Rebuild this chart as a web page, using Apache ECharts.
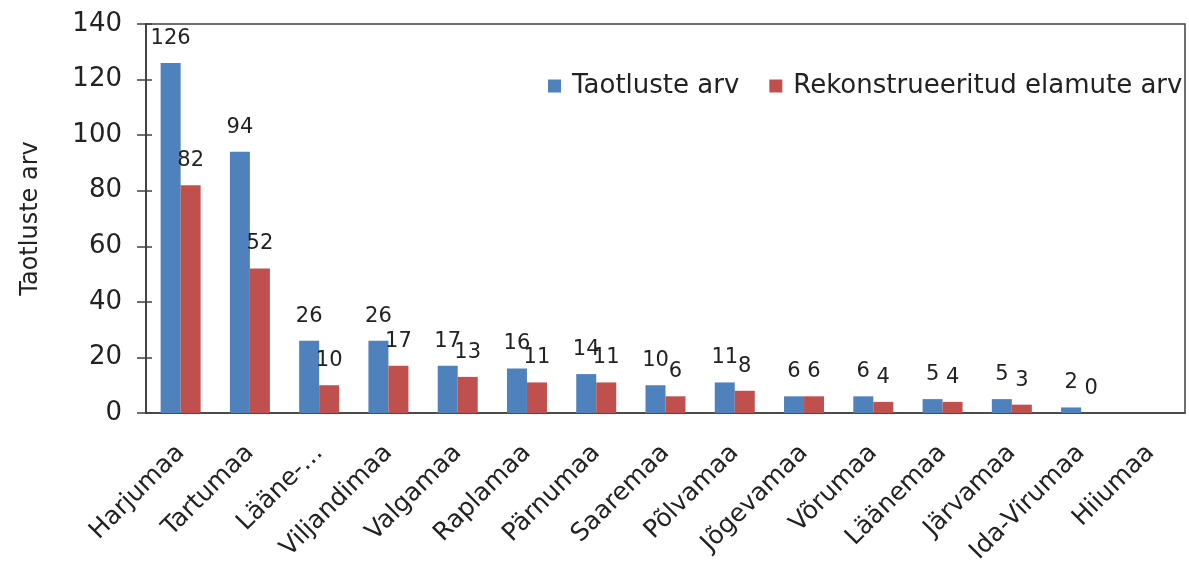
<!DOCTYPE html>
<html>
<head>
<meta charset="utf-8">
<script src="https://cdn.jsdelivr.net/npm/echarts@6/dist/echarts.min.js"></script>
<style>html,body{margin:0;padding:0;background:#fff;}#c{width:1189px;height:569px;}</style>
</head>
<body>
<div id="c"></div>
<script>
const categories = ['Harjumaa','Tartumaa','Lääne-…','Viljandimaa','Valgamaa','Raplamaa','Pärnumaa','Saaremaa','Põlvamaa','Jõgevamaa','Võrumaa','Läänemaa','Järvamaa','Ida-Virumaa','Hiiumaa'];
const taotlusteArv = [126, 94, 26, 26, 17, 16, 14, 10, 11, 6, 6, 5, 5, 2, null];
const rekonstrueeritud = [82, 52, 10, 17, 13, 11, 11, 6, 8, 6, 4, 4, 3, 0, null];
const seriesNames = ['Taotluste arv', 'Rekonstrueeritud elamute arv'];
const yTitle = 'Taotluste arv';

const FONT = 'DejaVu Sans';
const chart = echarts.init(document.getElementById('c'));
const labelCfg = {show: true, position: 'top', distance: 14, color: '#222', fontFamily: FONT, fontSize: 21};
chart.setOption({
  animation: false,
  textStyle: {fontFamily: FONT},
  grid: {left: 146, right: 4, top: 24, bottom: 156, show: true, borderColor: '#404040', borderWidth: 1.5},
  legend: {
    data: seriesNames, left: 543, top: 68, itemWidth: 13, itemHeight: 13, itemGap: 30,
    icon: 'rect', textStyle: {fontFamily: FONT, fontSize: 26, color: '#222', padding: [0, 0, 0, 6]}
  },
  xAxis: {
    type: 'category', data: categories,
    axisLine: {lineStyle: {color: '#404040', width: 1.5}},
    axisTick: {show: false},
    axisLabel: {rotate: 45, interval: 0, fontFamily: FONT, fontSize: 25, color: '#222', margin: 36}
  },
  yAxis: [{
    type: 'value', min: 0, max: 140, interval: 20,
    name: yTitle, nameLocation: 'middle', nameGap: 103, nameRotate: 90,
    nameTextStyle: {fontFamily: FONT, fontSize: 24, color: '#222'},
    axisLine: {show: true, lineStyle: {color: '#404040', width: 1.5}},
    axisTick: {show: true, length: 9, lineStyle: {color: '#404040', width: 1.5}},
    axisLabel: {fontFamily: FONT, fontSize: 26, color: '#222', margin: 24},
    splitLine: {show: false}
  }, {
    type: 'value', min: 0, max: 140, interval: 20, position: 'left',
    axisLine: {show: true, lineStyle: {color: '#404040', width: 1.5}},
    axisTick: {show: true, inside: true, length: 6, lineStyle: {color: '#404040', width: 1.5}},
    axisLabel: {show: false}, splitLine: {show: false}
  }],
  series: [
    {name: seriesNames[0], type: 'bar', data: taotlusteArv, barWidth: 20, barGap: '0%',
     itemStyle: {color: '#4F81BD'}, label: labelCfg},
    {name: seriesNames[1], type: 'bar', data: rekonstrueeritud, barWidth: 20, barGap: '0%',
     itemStyle: {color: '#C0504D'}, label: labelCfg}
  ]
});
</script>
</body>
</html>
